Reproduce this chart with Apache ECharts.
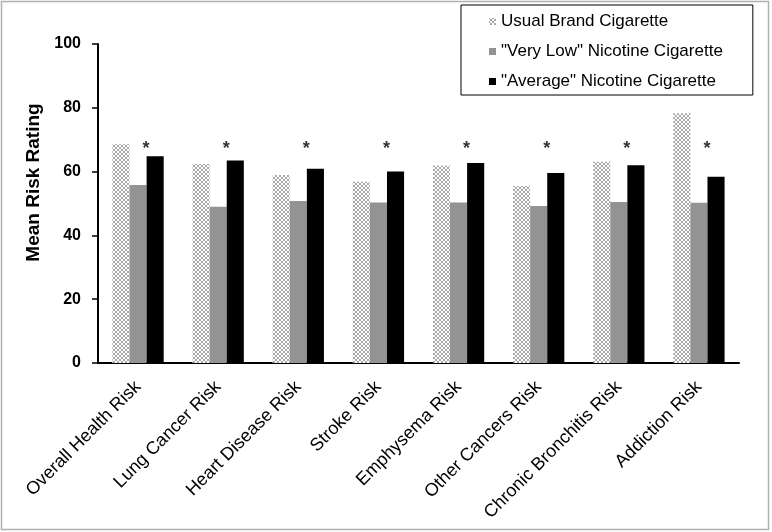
<!DOCTYPE html>
<html>
<head>
<meta charset="utf-8">
<script src="https://cdn.jsdelivr.net/npm/echarts@6/dist/echarts.min.js"></script>
<style>
  html, body { margin: 0; padding: 0; background: #fff; }
  #chart { width: 772px; height: 532px; }
</style>
</head>
<body>
<div id="chart"></div>
<script>
const categories = [
  'Overall Health Risk',
  'Lung Cancer Risk',
  'Heart Disease Risk',
  'Stroke Risk',
  'Emphysema Risk',
  'Other Cancers Risk',
  'Chronic Bronchitis Risk',
  'Addiction Risk'
]
const seriesNames = [
  'Usual Brand Cigarette',
  '"Very Low" Nicotine Cigarette',
  '"Average" Nicotine Cigarette'
]
const usualBrand = [68.6, 62.4, 58.9, 56.8, 61.9, 55.5, 63.1, 78.3]
const veryLow = [55.8, 49.0, 50.8, 50.3, 50.3, 49.2, 50.5, 50.2]
const average = [64.8, 63.5, 60.9, 60.0, 62.7, 59.6, 62.0, 58.4]
// significance markers (height where the asterisk sits)
const starLevel = [67, 67, 67, 67, 67, 67, 67, 67]
const yTicks = [0, 20, 40, 60, 80, 100]

// crosshatch fill for the usual brand bars
const makePattern = () => {
  const c = document.createElement( 'canvas' )
  c.width = 4
  c.height = 4
  const ctx = c.getContext( '2d' )
  ctx.fillStyle = '#ffffff'
  ctx.fillRect( 0, 0, 4, 4 )
  ctx.fillStyle = '#a8a8a8'
  const pts = [[0, 0], [1, 1], [2, 2], [3, 3], [3, 0], [2, 1], [1, 2], [0, 3]]
  pts.forEach( p => ctx.fillRect( p[0], p[1], 1, 1 ) )
  return { image : c, repeat : 'repeat' }
}
const hatch = makePattern()

const chart = echarts.init( document.getElementById( 'chart' ) )

chart.setOption( {
  animation : false,
  textStyle : { fontFamily : 'Liberation Sans' },
  graphic : [
    {
      type : 'rect',
      shape : { x : 1.5, y : 1.5, width : 767, height : 528 },
      style : { fill : 'none', stroke : '#b0b0b0', lineWidth : 1.5 },
      silent : true
    }
  ],
  legend : {
    data : seriesNames,
    orient : 'vertical',
    left : 461,
    top : 5,
    padding : [7, 30, 4, 28],
    itemGap : 11,
    itemWidth : 7,
    itemHeight : 7,
    icon : 'rect',
    borderColor : '#000',
    borderWidth : 1,
    backgroundColor : '#fff',
    textStyle : { fontSize : 17, color : '#000', lineHeight : 19 }
  },
  grid : {
    left : 98,
    right : 33,
    top : 44,
    bottom : 169
  },
  xAxis : {
    type : 'category',
    data : categories,
    axisLine : { lineStyle : { color : '#000', width : 2 } },
    axisTick : { show : false },
    axisLabel : {
      rotate : 45,
      interval : 0,
      margin : 21,
      fontSize : 18,
      color : '#000',
      fontFamily : 'Liberation Sans'
    }
  },
  yAxis : {
    type : 'value',
    min : yTicks[0],
    max : yTicks[yTicks.length - 1],
    interval : 20,
    name : 'Mean Risk Rating',
    nameLocation : 'middle',
    nameGap : 55,
    nameTextStyle : {
      fontSize : 19,
      fontWeight : 'bold',
      color : '#000',
      fontFamily : 'Liberation Sans',
      padding : [0, 0, 0, 42]
    },
    axisLine : { show : true, lineStyle : { color : '#000', width : 2 } },
    axisTick : { show : true, length : 6, lineStyle : { color : '#000', width : 1.5 } },
    axisLabel : { fontSize : 16, fontWeight : 'bold', color : '#000', margin : 17, fontFamily : 'Liberation Sans' },
    splitLine : { show : false }
  },
  series : [
    {
      name : seriesNames[0],
      type : 'bar',
      data : usualBrand,
      barGap : '0%',
      barCategoryGap : '36%',
      itemStyle : { color : hatch }
    },
    {
      name : seriesNames[1],
      type : 'bar',
      data : veryLow,
      itemStyle : { color : '#939393' }
    },
    {
      name : seriesNames[2],
      type : 'bar',
      data : average,
      itemStyle : { color : '#000' }
    },
    {
      name : 'sig',
      type : 'scatter',
      data : starLevel,
      symbolSize : 1,
      itemStyle : { color : 'rgba(0,0,0,0)' },
      label : {
        show : true,
        formatter : '*',
        position : 'inside',
        offset : [8, 0],
        fontSize : 18,
        fontWeight : 'bold',
        color : '#000'
      },
      silent : true
    }
  ]
} )
</script>
</body>
</html>
